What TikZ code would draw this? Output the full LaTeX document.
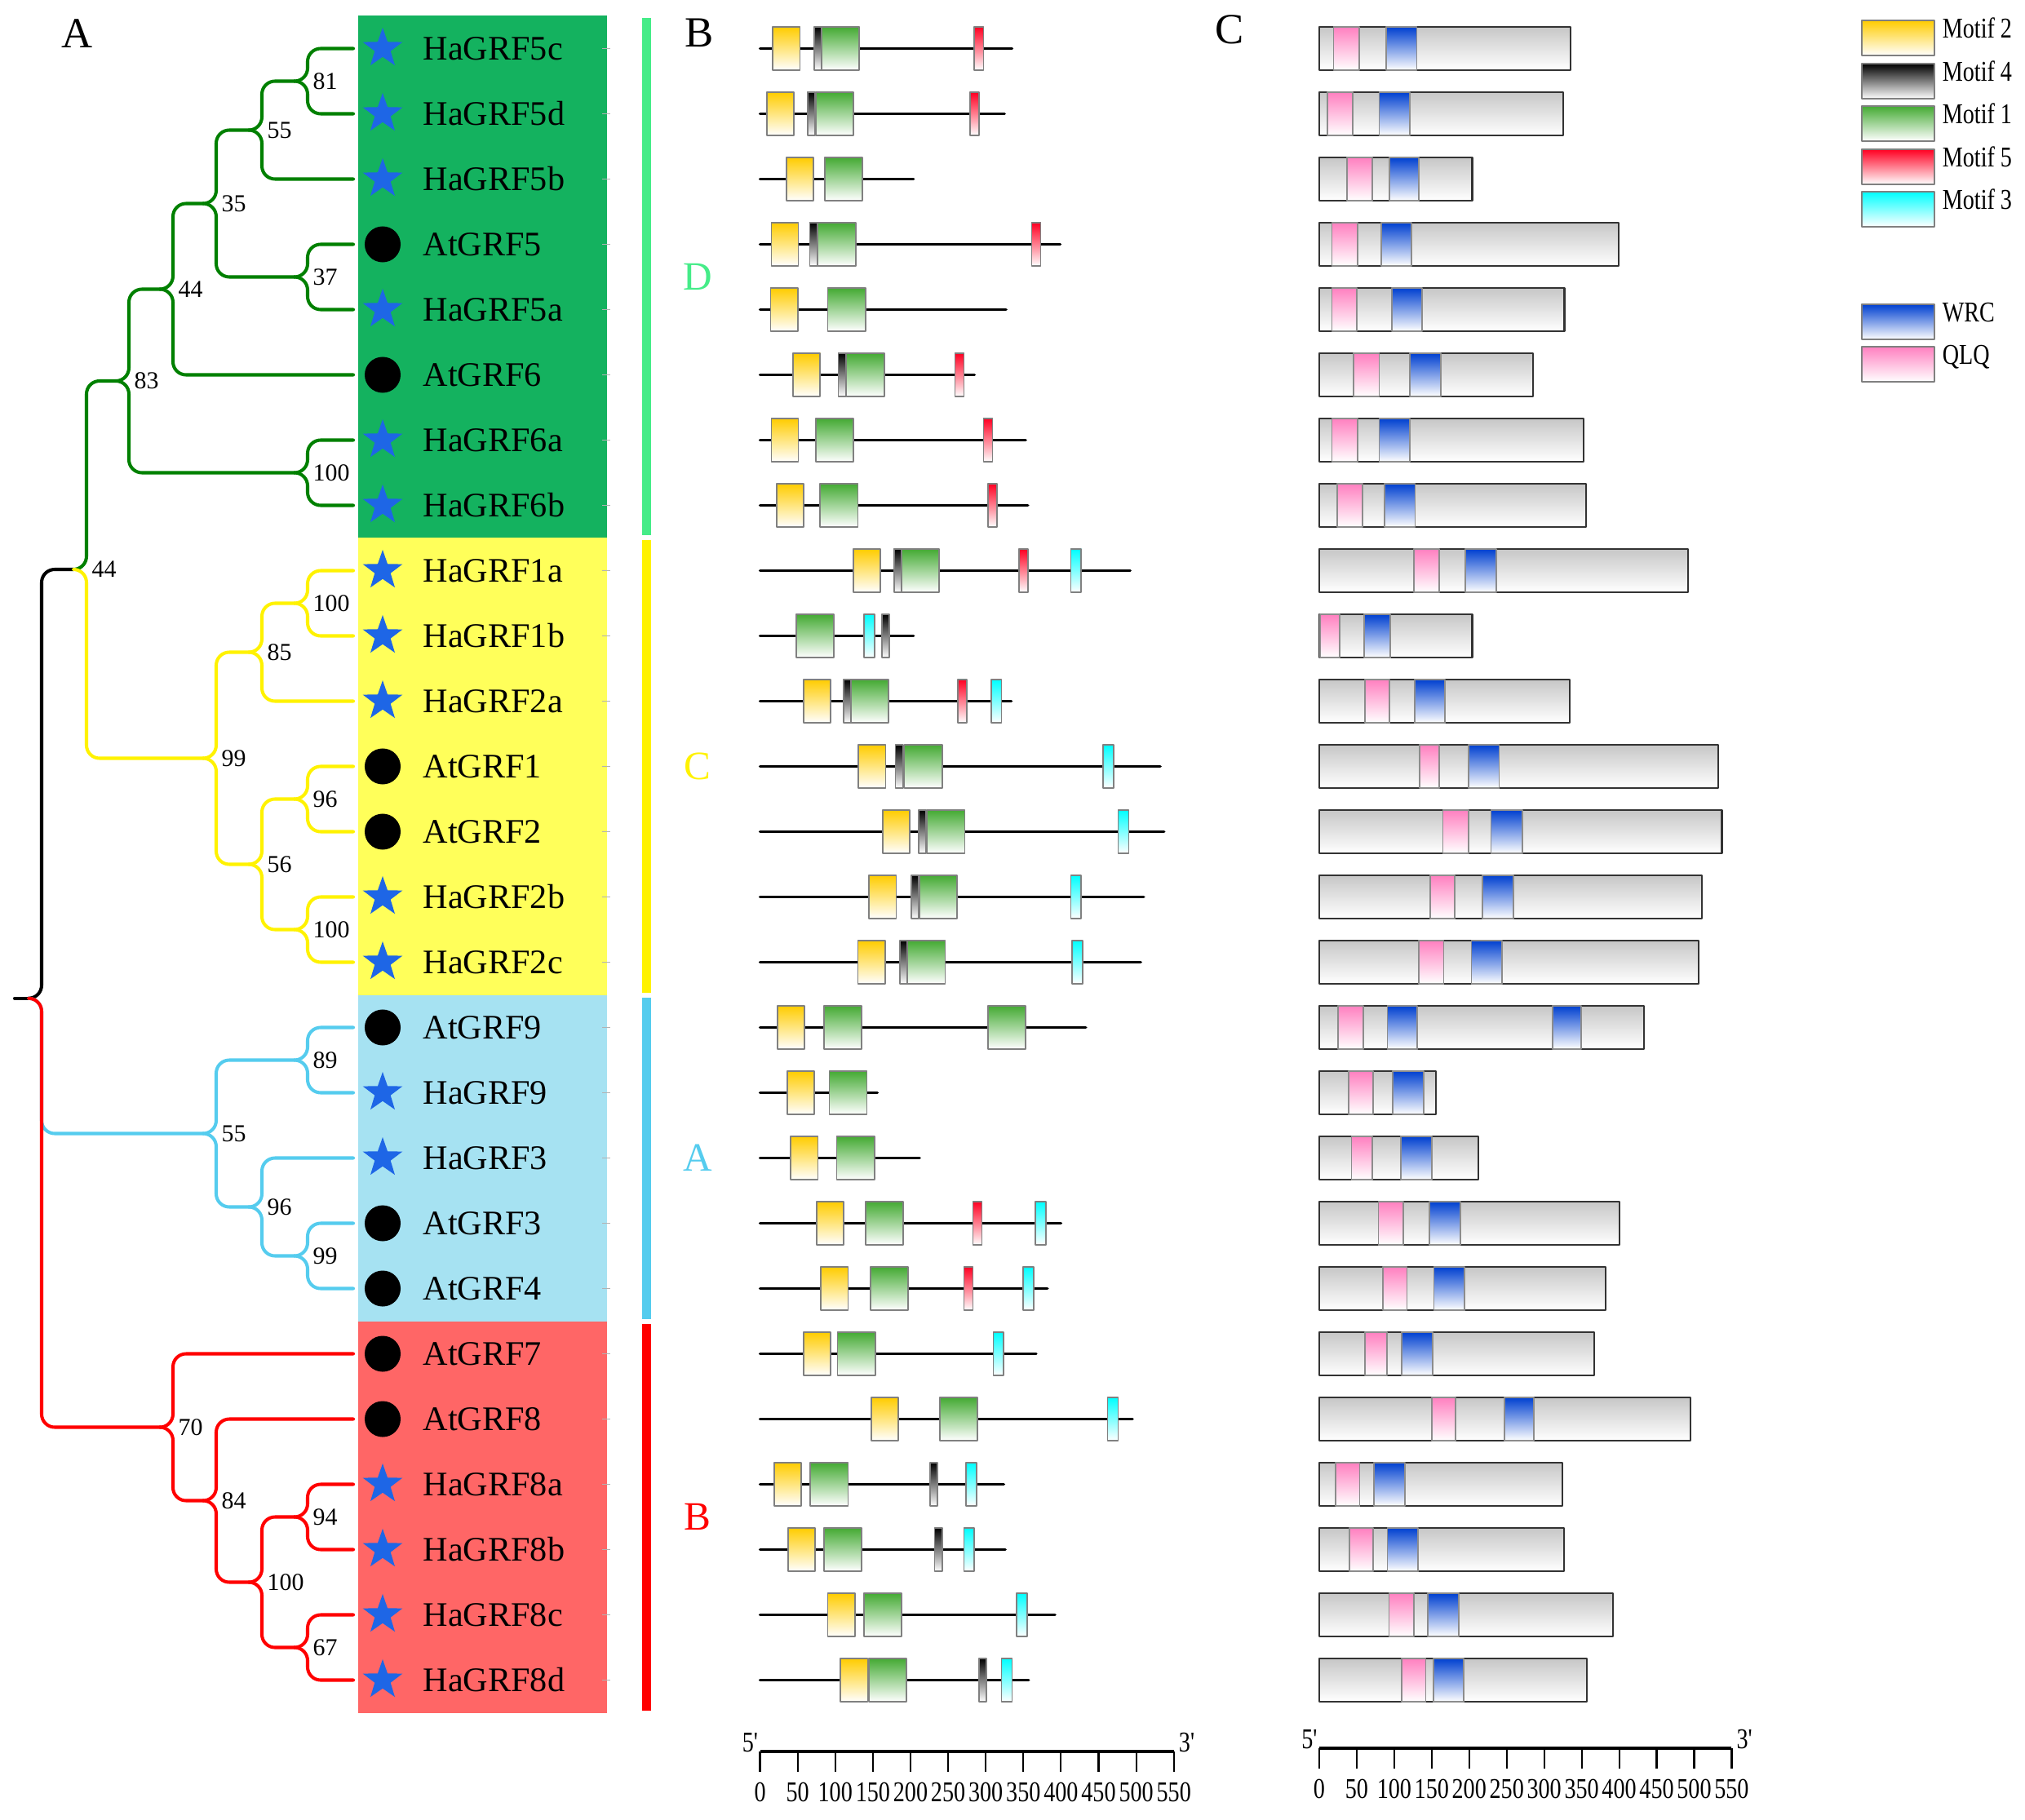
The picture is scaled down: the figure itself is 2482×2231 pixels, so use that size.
\documentclass[tikz,border=0pt]{standalone}
\usepackage{fontspec}
\setmainfont{Liberation Serif}
\newfontfamily\condfont[FakeStretch=0.8]{Liberation Serif}
\usetikzlibrary{calc,shapes.geometric}
\definecolor{boxD}{HTML}{14B25F}
\definecolor{boxC}{HTML}{FFFF5A}
\definecolor{boxA}{HTML}{A6E2F2}
\definecolor{boxB}{HTML}{FF6666}
\definecolor{barD}{HTML}{45EC88}
\definecolor{barA}{HTML}{55CCEE}
\definecolor{treeD}{HTML}{008000}
\definecolor{starblue}{HTML}{1E66E6}
\definecolor{mot2}{HTML}{FFCC00}
\definecolor{mot1}{HTML}{44AA33}
\definecolor{mot5}{HTML}{FF0022}
\definecolor{mot3}{HTML}{00FFFF}
\definecolor{wrc}{HTML}{0040D0}
\definecolor{qlq}{HTML}{FF80C0}
\begin{document}
\begin{tikzpicture}[x=0.01cm, y=-0.01cm, line join=round,
  br/.style={line width=1.15pt, rounded corners=0.16cm, line cap=round},
  hamark/.style={star, star points=5, star point ratio=2.5, fill=starblue, inner sep=0pt, minimum size=0.51cm},
  atmark/.style={circle, fill=black, inner sep=0pt, minimum size=0.44cm},
  gene/.style={anchor=west, inner sep=0pt, font=\fontsize{12}{14}\selectfont},
  boot/.style={anchor=west, inner sep=0pt, font=\fontsize{8.5}{10}\selectfont},
  panel/.style={inner sep=0pt, font=\fontsize{15}{18}\selectfont},
  grp/.style={inner sep=0pt, font=\fontsize{14}{17}\selectfont},
  tipline/.style={black!30, line width=0.4pt},
  gline/.style={line width=1pt, line cap=round},
  mbox/.style={draw=black!50, line width=0.5pt},
  mY/.style={mbox, top color=mot2, bottom color=white},
  mK/.style={mbox, top color=black, bottom color=white},
  mG/.style={mbox, top color=mot1, bottom color=white},
  mR/.style={mbox, top color=mot5, bottom color=white},
  mC/.style={mbox, top color=mot3, bottom color=white},
  prot/.style={draw=black!80, line width=0.6pt, top color=black!22, bottom color=white},
  qbox/.style={draw=black!45, line width=0.5pt, top color=qlq, bottom color=white},
  wbox/.style={draw=black!45, line width=0.5pt, top color=wrc, bottom color=white},
  axis/.style={line width=1.1pt},
  tick/.style={line width=0.6pt},
  num/.style={inner sep=0pt, font=\condfont\fontsize{10}{12}\selectfont},
  legbox/.style={draw=black!50, line width=0.6pt, minimum width=0.89cm, minimum height=0.43cm, inner sep=0pt, anchor=north west},
  legtxt/.style={inner sep=0pt, anchor=base west, font=\condfont\fontsize{10}{12}\selectfont}]
\useasboundingbox (0,0) rectangle (2482,2231);
\def\wY{36} \def\wG{50} \def\wK{10} \def\wR{12} \def\wC{14}
\def\ax{2147}
% clade boxes and bars
\fill[boxD] (438.8,19.5) rectangle (744,659.5);
\fill[boxC] (438.8,659.5) rectangle (744,1219.5);
\fill[boxA] (438.8,1219.5) rectangle (744,1619.5);
\fill[boxB] (438.8,1619.5) rectangle (744,2099.5);
\fill[barD] (787,22.5) rectangle (798,656.5);
\fill[yellow] (787,662.5) rectangle (798,1216.5);
\fill[barA] (787,1222.5) rectangle (798,1616.5);
\fill[red] (787,1622.5) rectangle (798,2096.5);
\node[panel] (pA) at (95,41) {A};
\node[panel] (pB) at (857,40) {B};
\node[panel] (pC) at (1507,36) {C};
\node[grp, text=barD] (gD) at (855,339.5) {D};
\node[grp, text=yellow] (gC) at (855,939.5) {C};
\node[grp, text=barA] (gA) at (855,1419.5) {A};
\node[grp, text=red] (gB) at (855,1859.5) {B};
% tips
\foreach \g/\mk [count=\i] in {HaGRF5c/hamark,HaGRF5d/hamark,HaGRF5b/hamark,AtGRF5/atmark,HaGRF5a/hamark,AtGRF6/atmark,HaGRF6a/hamark,HaGRF6b/hamark,HaGRF1a/hamark,HaGRF1b/hamark,HaGRF2a/hamark,AtGRF1/atmark,AtGRF2/atmark,HaGRF2b/hamark,HaGRF2c/hamark,AtGRF9/atmark,HaGRF9/hamark,HaGRF3/hamark,AtGRF3/atmark,AtGRF4/atmark,AtGRF7/atmark,AtGRF8/atmark,HaGRF8a/hamark,HaGRF8b/hamark,HaGRF8c/hamark,HaGRF8d/hamark}{
  \coordinate (tip-\g) at (433,{80*\i-20.5});
  \node[\mk] (mk-\g) at (469,{80*\i-20.5}) {};
  \node[gene] (\g) at (518,{80*\i-20.5}) {\g};
  \draw[tipline] (738,{80*\i-20.5}) -- (748,{80*\i-20.5});
}
% tree nodes
\coordinate (root0) at (18,1223.75); \coordinate (root) at (35,1223.75);
\coordinate (n44) at (90,698);
\coordinate (g83) at (142,467); \coordinate (g44) at (196,354.5);
\coordinate (g35) at (249,249.5); \coordinate (g55) at (305,159.5);
\coordinate (g81) at (361,99.5); \coordinate (g37) at (361,339.5);
\coordinate (g100) at (361,579.5);
\coordinate (y99) at (249,929.5); \coordinate (y85) at (305,799.5);
\coordinate (y100a) at (361,739.5); \coordinate (y56) at (305,1059.5);
\coordinate (y96) at (361,979.5); \coordinate (y100b) at (361,1139.5);
\coordinate (b55) at (249,1389.5); \coordinate (b89) at (361,1299.5);
\coordinate (b96) at (305,1479.5); \coordinate (b99) at (361,1539.5);
\coordinate (r70) at (196,1749.5); \coordinate (r84) at (249,1839.5);
\coordinate (r100) at (305,1939.5); \coordinate (r94) at (361,1859.5);
\coordinate (r67) at (361,2019.5);
% branches
\draw[br] (root0) -- (root);
\draw[br] (root) -- ++(16,0) |- (n44);
\foreach \a/\b in {n44/g83,g83/g44,g83/g100,g44/g35,g44/tip-AtGRF6,g35/g55,g35/g37,g55/g81,g55/tip-HaGRF5b,g81/tip-HaGRF5c,g81/tip-HaGRF5d,g37/tip-AtGRF5,g37/tip-HaGRF5a,g100/tip-HaGRF6a,g100/tip-HaGRF6b}
  \draw[br, treeD] (\a) -- ++(16,0) |- (\b);
\foreach \a/\b in {n44/y99,y99/y85,y99/y56,y85/y100a,y85/tip-HaGRF2a,y100a/tip-HaGRF1a,y100a/tip-HaGRF1b,y56/y96,y56/y100b,y96/tip-AtGRF1,y96/tip-AtGRF2,y100b/tip-HaGRF2b,y100b/tip-HaGRF2c}
  \draw[br, yellow] (\a) -- ++(16,0) |- (\b);
\foreach \a/\b in {root/b55,b55/b89,b55/b96,b89/tip-AtGRF9,b89/tip-HaGRF9,b96/tip-HaGRF3,b96/b99,b99/tip-AtGRF3,b99/tip-AtGRF4}
  \draw[br, barA] (\a) -- ++(16,0) |- (\b);
\foreach \a/\b in {root/r70,r70/tip-AtGRF7,r70/r84,r84/tip-AtGRF8,r84/r100,r100/r94,r100/r67,r94/tip-HaGRF8a,r94/tip-HaGRF8b,r67/tip-HaGRF8c,r67/tip-HaGRF8d}
  \draw[br, red] (\a) -- ++(16,0) |- (\b);
\foreach \n/\v in {g81/81,g55/55,g35/35,g37/37,g44/44,g83/83,g100/100,n44/44,y100a/100,y85/85,y99/99,y96/96,y56/56,y100b/100,b89/89,b55/55,b96/96,b99/99,r70/70,r84/84,r94/94,r100/100,r67/67}
  \node[boot] (bs-\n) at ($(\n)+(22,0)$) {\v};
% motifs
\begin{scope}[xshift=9.31cm, x=0.009213cm]
\foreach \i/\len/\mots in {1/335/{Y/17,K/72,G/82,R/285}, 2/325/{Y/9,K/63,G/74,R/279},
  3/204/{Y/35,G/86}, 4/399/{Y/15,K/66,G/77,R/361}, 5/327/{Y/14,G/90},
  6/285/{Y/44,K/104,G/115,R/259}, 7/353/{Y/15,G/74,R/297}, 8/356/{Y/22,G/80,R/303},
  9/492/{Y/124,K/178,G/188,R/344,C/413}, 10/204/{G/48,C/138,K/162},
  11/334/{Y/58,K/111,G/121,R/263,C/307}, 12/532/{Y/131,K/180,G/192,C/456},
  13/537/{Y/163,K/211,G/222,C/476}, 14/510/{Y/145,K/201,G/212,C/413},
  15/506/{Y/130,K/186,G/196,C/415}, 16/433/{Y/23,G/85,G/303}, 17/156/{Y/36,G/92},
  18/212/{Y/41,G/102}, 19/400/{Y/75,G/140,R/283,C/366}, 20/382/{Y/81,G/147,R/271,C/350},
  21/367/{Y/58,G/103,C/310}, 22/495/{Y/148,G/239,C/462}, 23/324/{Y/19,G/67,K/226,C/274},
  24/326/{Y/37,G/85,K/232,C/271}, 25/392/{Y/90,G/138,C/341}, 26/357/{Y/107,G/145,K/291,C/321}}{
  \draw[gline] (0,{80*\i-20.5}) -- (\len,{80*\i-20.5});
  \foreach \mt/\ms in \mots
    \draw[m\mt] (\ms,{80*\i-47}) rectangle ++(\csname w\mt\endcsname,53);
}
\draw[axis] (0,\ax) -- (550,\ax);
\foreach \v in {0,50,...,550}{
  \draw[tick] (\v,\ax) -- (\v,\ax+25);
  \node[num] (ba\v) at (\v,\ax+50) {\v};
}
\node[num, anchor=south east] (b5) at (-2,\ax+2) {5'};
\node[num, anchor=south west] (b3) at (556,\ax+2) {3'};
\end{scope}
% domains
\begin{scope}[xshift=16.16cm, x=0.009182cm]
\foreach \i/\len/\qa/\qb/\wa/\wb in {1/335/19/53/89/130, 2/325/11/45/80/121, 3/204/37/71/94/133,
  4/399/17/51/83/123, 5/327/17/50/97/137, 6/285/46/80/121/162, 7/353/17/51/80/121,
  8/356/24/58/87/128, 9/492/126/160/195/236, 10/204/1/27/60/95, 11/334/61/94/127/168,
  12/532/134/160/199/240, 13/537/165/199/229/271, 14/510/148/181/218/259,
  15/506/133/166/203/244, 16/433/25/59/91/131, 17/156/39/72/98/139, 18/212/43/71/109/150,
  19/400/79/112/147/188, 20/382/85/117/153/194, 21/367/61/90/110/151,
  22/495/150/182/247/286, 23/324/22/54/73/114, 24/326/40/72/91/132,
  25/392/93/126/145/186, 26/357/110/142/152/193}{
  \draw[prot] (0,{80*\i-47}) rectangle (\len,{80*\i+6});
  \draw[qbox] (\qa,{80*\i-47}) rectangle (\qb,{80*\i+6});
  \draw[wbox] (\wa,{80*\i-47}) rectangle (\wb,{80*\i+6});
}
\draw[wbox] (311,1233) rectangle (349,1286);
\draw[axis] (0,\ax-4) -- (550,\ax-4);
\foreach \v in {0,50,...,550}{
  \draw[tick] (\v,\ax-4) -- (\v,\ax+21);
  \node[num] (ca\v) at (\v,\ax+46) {\v};
}
\node[num, anchor=south east] (c5) at (-2,\ax-2) {5'};
\node[num, anchor=south west] (c3) at (556,\ax-2) {3'};
\end{scope}
% legend
\foreach \nm/\cl/\yy in {Motif 2/mot2/24, Motif 4/black/77, Motif 1/mot1/129, Motif 5/mot5/182, Motif 3/mot3/234, WRC/wrc/372, QLQ/qlq/424}{
  \node[legbox, top color=\cl, bottom color=white] (lg\yy) at (2281,\yy) {};
  \node[legtxt] (lt\yy) at ($(lg\yy.north east)+(8,23)$) {\nm};
}
\end{tikzpicture}
\end{document}
